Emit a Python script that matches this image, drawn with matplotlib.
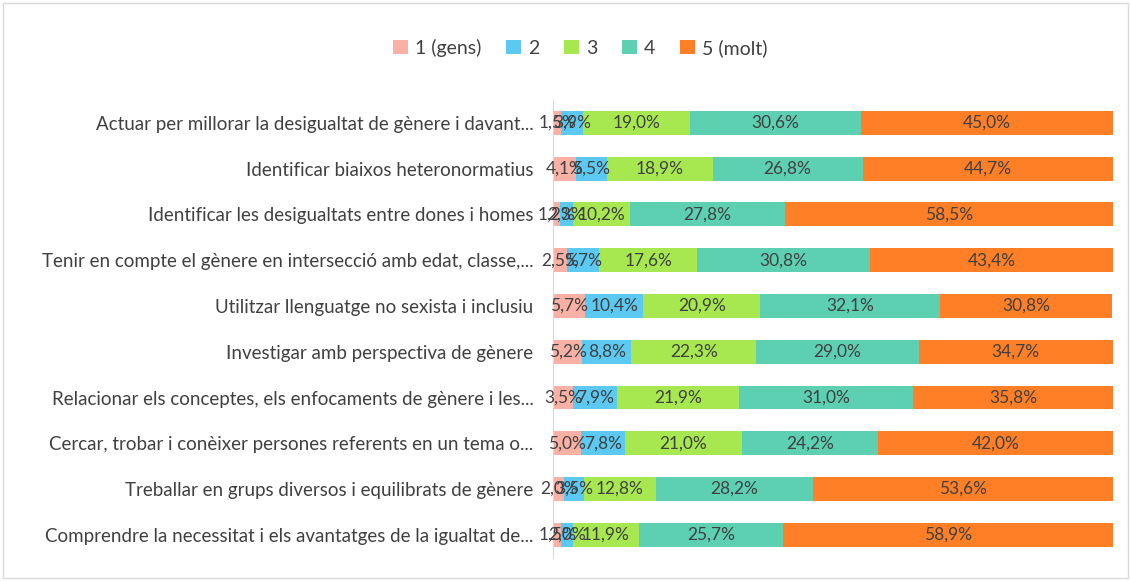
import matplotlib.pyplot as plt
from matplotlib.patches import Rectangle
import numpy as np

plt.rcParams['font.family'] = ['Lato', 'DejaVu Sans']

categories = [
    "Actuar per millorar la desigualtat de gènere i davant...",
    "Identificar biaixos heteronormatius",
    "Identificar les desigualtats entre dones i homes",
    "Tenir en compte el gènere en intersecció amb edat, classe,...",
    "Utilitzar llenguatge no sexista i inclusiu",
    "Investigar amb perspectiva de gènere",
    "Relacionar els conceptes, els enfocaments de gènere i les...",
    "Cercar, trobar i conèixer persones referents en un tema o...",
    "Treballar en grups diversos i equilibrats de gènere",
    "Comprendre la necessitat i els avantatges de la igualtat de...",
]
series_names = ["1 (gens)", "2", "3", "4", "5 (molt)"]
v1 = [1.5, 4.1, 1.2, 2.5, 5.7, 5.2, 3.5, 5.0, 2.0, 1.5]
v2 = [3.9, 5.5, 2.3, 5.7, 10.4, 8.8, 7.9, 7.8, 3.5, 2.0]
v3 = [19.0, 18.9, 10.2, 17.6, 20.9, 22.3, 21.9, 21.0, 12.8, 11.9]
v4 = [30.6, 26.8, 27.8, 30.8, 32.1, 29.0, 31.0, 24.2, 28.2, 25.7]
v5 = [45.0, 44.7, 58.5, 43.4, 30.8, 34.7, 35.8, 42.0, 53.6, 58.9]
colors = ["#F8B1A4", "#5BC9F1", "#A7E851", "#5ED0B2", "#FF7F27"]

fig = plt.figure(figsize=(11.31, 5.81), dpi=100)
fig.patches.append(Rectangle((0.003, 0.005), 0.994, 0.99, transform=fig.transFigure,
                             fill=False, edgecolor="#D9D9D9", linewidth=1))
ax = fig.add_axes([0.489, 0.040, 0.495, 0.788])

y = np.arange(len(categories))[::-1]
left = np.zeros(len(categories))
handles = []
for name, vals, c in zip(series_names, [v1, v2, v3, v4, v5], colors):
    vals = np.array(vals)
    bars = ax.barh(y, vals, left=left, height=0.52, color=c, label=name)
    for yi, l, v in zip(y, left, vals):
        ax.text(l + v / 2, yi, f"{v:.1f}%".replace(".", ","), ha="center", va="center",
                fontsize=12.5, color="#404040")
    handles.append(bars)
    left += vals

ax.set_xlim(0, 100)
ax.set_ylim(-0.5, len(categories) - 0.5)
ax.set_yticks(y)
ax.set_yticklabels(categories, fontsize=13.5, color="#404040")
ax.tick_params(axis="y", length=0, pad=14)
ax.set_xticks([])
for s in ["top", "right", "bottom"]:
    ax.spines[s].set_visible(False)
ax.spines["left"].set_color("#D9D9D9")

fig.legend(handles=handles, labels=series_names, loc="center", bbox_to_anchor=(0.513, 0.918),
           ncol=5, frameon=False, fontsize=14, handlelength=0.75, handleheight=0.75,
           handletextpad=0.35, columnspacing=1.3, labelcolor="#404040")

fig.savefig("out.png", dpi=100)
